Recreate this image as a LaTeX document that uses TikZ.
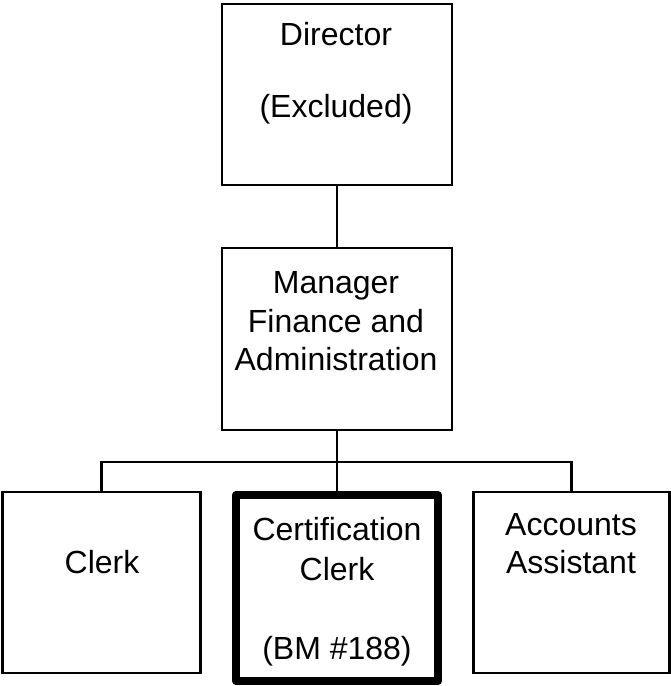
\documentclass[tikz,border=0pt]{standalone}
\usepackage{fontspec}
\setmainfont{Liberation Sans}
\begin{document}
\begin{tikzpicture}[x=1pt,y=-1pt,
  box/.style={draw, line width=2.4pt, inner sep=0pt, rectangle},
  keybox/.style={draw, line width=8pt, line join=round, inner sep=0pt, rectangle},
  link/.style={line width=2.4pt},
  lbl/.style={anchor=base, inner sep=0pt, font=\fontsize{32}{38}\selectfont}]
\useasboundingbox (0,0) rectangle (670,686);

% org boxes
\node[box, minimum width=230pt, minimum height=181pt] (dir) at (337,94.5) {};
\node[box, minimum width=230pt, minimum height=182pt] (mgr) at (337,339) {};
\node[box, minimum width=198pt, minimum height=181pt] (clk) at (101.5,582.5) {};
\node[keybox, minimum width=202pt, minimum height=186pt] (cer) at (337,588) {};
\node[box, minimum width=196pt, minimum height=181pt] (acc) at (571.5,582.5) {};

% reporting lines
\coordinate (bus) at (337,462);
\draw[link] (dir.south) -- (mgr.north);
\draw[link] (mgr.south) -- (cer.north);
\draw[link] (clk.north) |- (bus) -| (acc.north);

% labels
\node[lbl] (t1) at (336,45) {Director};
\node[lbl] (t2) at (336,117) {(Excluded)};
\node[lbl] (t3) at (336,293) {Manager};
\node[lbl] (t4) at (336,332) {Finance and};
\node[lbl] (t5) at (336,370) {Administration};
\node[lbl] (t6) at (102,573) {Clerk};
\node[lbl] (t7) at (337,540) {Certification};
\node[lbl] (t8) at (337,580) {Clerk};
\node[lbl] (t9) at (337,659) {(BM \#188)};
\node[lbl] (t10) at (571,535) {Accounts};
\node[lbl] (t11) at (571,573) {Assistant};
\end{tikzpicture}
\end{document}
